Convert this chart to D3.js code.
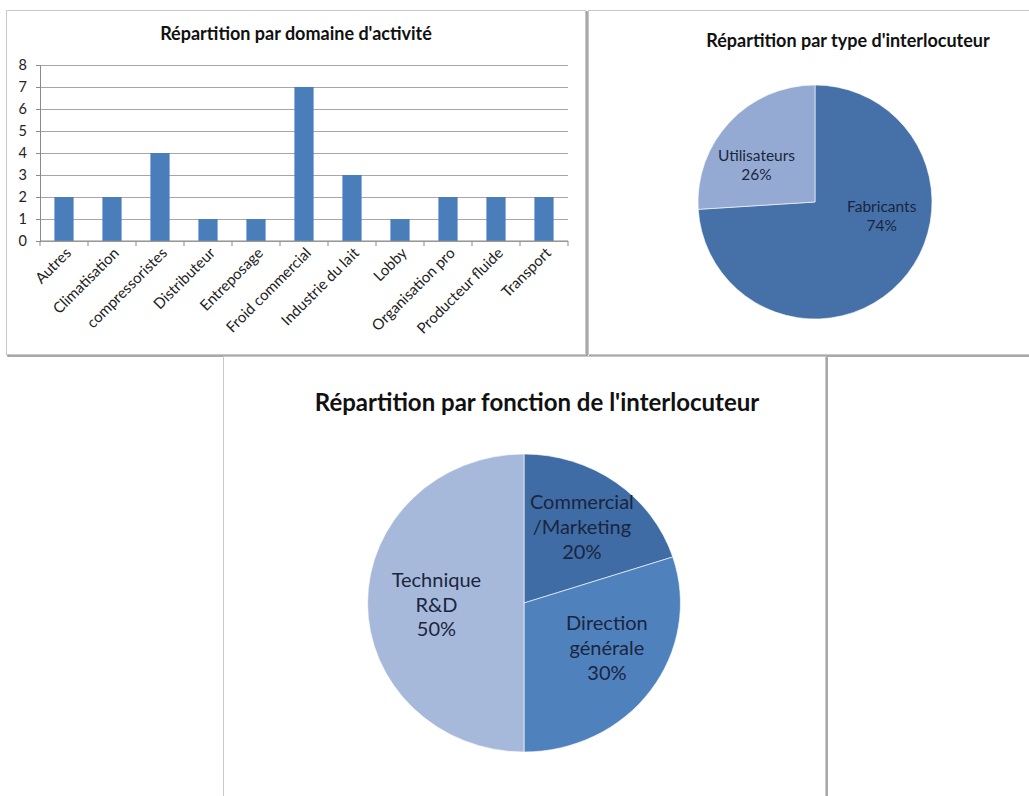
<!DOCTYPE html>
<html>
<head>
<meta charset="utf-8">
<script src="https://cdn.jsdelivr.net/npm/d3@7/dist/d3.min.js"></script>
<style>
    html, body { margin: 0; padding: 0; background: #fff; }
    svg { display: block; font-family: Lato, "Open Sans", sans-serif; }
</style>
</head>
<body>
<svg id="chart" width="1029" height="796"></svg>
<script>
// Données
const domaines = ["Autres", "Climatisation", "compressoristes", "Distributeur", "Entreposage",
    "Froid commercial", "Industrie du lait", "Lobby", "Organisation pro", "Producteur fluide", "Transport"];
const domaineValeurs = [2, 2, 4, 1, 1, 7, 3, 1, 2, 2, 2];
const yTicks = [0, 1, 2, 3, 4, 5, 6, 7, 8];

const typeLabels = ["Fabricants", "Utilisateurs"];
const typeValeurs = [74, 26];

const fonctionLabels = [["Commercial", "/Marketing"], ["Direction", "générale"], ["Technique", "R&D"]];
const fonctionValeurs = [20, 30, 50];

const svg = d3.select("#chart");

// Cadres des trois graphiques
function frame(x, y, w, h) {
    svg.append("rect")
        .attr("x", x + 1.5).attr("y", y + 1.5)
        .attr("width", w).attr("height", h)
        .attr("fill", "none").attr("stroke", "#8c8c8c").attr("stroke-width", 1.5);
    svg.append("rect")
        .attr("x", x).attr("y", y)
        .attr("width", w).attr("height", h)
        .attr("fill", "#fff").attr("stroke", "#c8c8c8").attr("stroke-width", 1);
}
frame(6.5, 10.5, 579, 344);
frame(588.5, 10.5, 460, 344);
frame(223.5, 356.5, 602, 460);

// ---- Histogramme ----
function drawBarChart() {
    const x = d3.scaleBand()
        .domain(domaines)
        .range([40, 568])
        .paddingInner(0.6)
        .paddingOuter(0.3);

    const y = d3.scaleLinear()
        .domain([0, 8])
        .range([241, 65]);

    const g = svg.append("g");

    // Grille
    g.append("g")
        .attr("transform", "translate(40,0)")
        .call(d3.axisLeft(y).tickValues(yTicks).tickSize(-528).tickFormat(""))
        .call(s => s.select(".domain").remove())
        .call(s => s.selectAll("line").attr("stroke", "#a6a6a6"));

    // Axe Y
    g.append("g")
        .attr("transform", "translate(40,0)")
        .call(d3.axisLeft(y).tickValues(yTicks).tickSize(4).tickPadding(9))
        .call(s => s.select(".domain").attr("stroke", "#8a8a8a"))
        .call(s => s.selectAll("line").attr("stroke", "#8a8a8a"))
        .call(s => s.selectAll("text").attr("font-size", "14.5px").attr("fill", "#222")
            .attr("font-family", "Lato, sans-serif"));

    // Barres
    g.selectAll(".bar")
        .data(domaineValeurs)
        .enter()
        .append("rect")
        .attr("class", "bar")
        .attr("x", (d, i) => x(domaines[i]))
        .attr("y", d => y(d))
        .attr("width", x.bandwidth())
        .attr("height", d => y(0) - y(d))
        .attr("fill", "#4a7ebb");

    // Axe X
    const step = x.step();
    g.append("line")
        .attr("x1", 40).attr("x2", 568)
        .attr("y1", y(0)).attr("y2", y(0))
        .attr("stroke", "#8a8a8a");
    g.selectAll(".xtick")
        .data(d3.range(domaines.length + 1))
        .enter()
        .append("line")
        .attr("x1", i => 40 + i * step).attr("x2", i => 40 + i * step)
        .attr("y1", y(0)).attr("y2", y(0) + 5)
        .attr("stroke", "#8a8a8a");

    g.selectAll(".xlabel")
        .data(domaines)
        .enter()
        .append("text")
        .attr("transform", d => `translate(${x(d) + x.bandwidth() / 2 + 8},${y(0) + 13}) rotate(-45)`)
        .attr("text-anchor", "end")
        .attr("font-size", "15px")
        .attr("fill", "#222")
        .text(d => d);

    svg.append("text")
        .attr("x", 296).attr("y", 40)
        .attr("text-anchor", "middle")
        .attr("font-size", "18px")
        .attr("font-weight", "bold")
        .attr("fill", "#111")
        .text("Répartition par domaine d'activité");
}

// ---- Camemberts ----
function drawPie(opts) {
    const { cx, cy, r, sx, values, labels, colors, labelPos, fontSize, lineH } = opts;
    const pie = d3.pie().sort(null).value(d => d);
    const arc = d3.arc().innerRadius(0).outerRadius(r);

    const g = svg.append("g")
        .attr("transform", `translate(${cx},${cy}) scale(${sx},1)`);

    g.selectAll("path")
        .data(pie(values))
        .enter()
        .append("path")
        .attr("d", arc)
        .attr("fill", (d, i) => colors[i])
        .attr("stroke", "#fff")
        .attr("stroke-width", 0.6);

    const lg = svg.append("g").attr("transform", `translate(${cx},${cy})`);
    pie(values).forEach((d, i) => {
        const lines = [].concat(labels[i], [Math.round(d.value) + "%"]);
        const t = lg.append("text")
            .attr("text-anchor", "middle")
            .attr("font-size", fontSize)
            .attr("fill", "#1a2540");
        const y0 = labelPos[i][1] * r - (lines.length - 1) * lineH / 2;
        lines.forEach((l, j) => {
            t.append("tspan")
                .attr("x", labelPos[i][0] * r * sx)
                .attr("y", y0 + j * lineH)
                .attr("dy", "0.35em")
                .text(l);
        });
    });
}

drawBarChart();

svg.append("text")
    .attr("x", 848).attr("y", 47)
    .attr("text-anchor", "middle")
    .attr("font-size", "18px")
    .attr("font-weight", "bold")
    .attr("fill", "#111")
    .text("Répartition par type d'interlocuteur");

drawPie({
    cx: 815, cy: 202, r: 117, sx: 1,
    values: typeValeurs,
    labels: typeLabels,
    colors: ["#4571a8", "#94aad2"],
    labelPos: [[0.57, 0.12], [-0.5, -0.32]],
    fontSize: "15.5px", lineH: 19
});

svg.append("text")
    .attr("x", 537).attr("y", 411)
    .attr("text-anchor", "middle")
    .attr("font-size", "24px")
    .attr("font-weight", "bold")
    .attr("fill", "#111")
    .text("Répartition par fonction de l'interlocuteur");

drawPie({
    cx: 524, cy: 603, r: 149, sx: 1.05,
    values: fonctionValeurs,
    labels: fonctionLabels,
    colors: ["#3f6ca4", "#4f81bd", "#a7b9da"],
    labelPos: [[0.37, -0.51], [0.53, 0.3], [-0.56, 0.01]],
    fontSize: "20px", lineH: 25
});
</script>
</body>
</html>
